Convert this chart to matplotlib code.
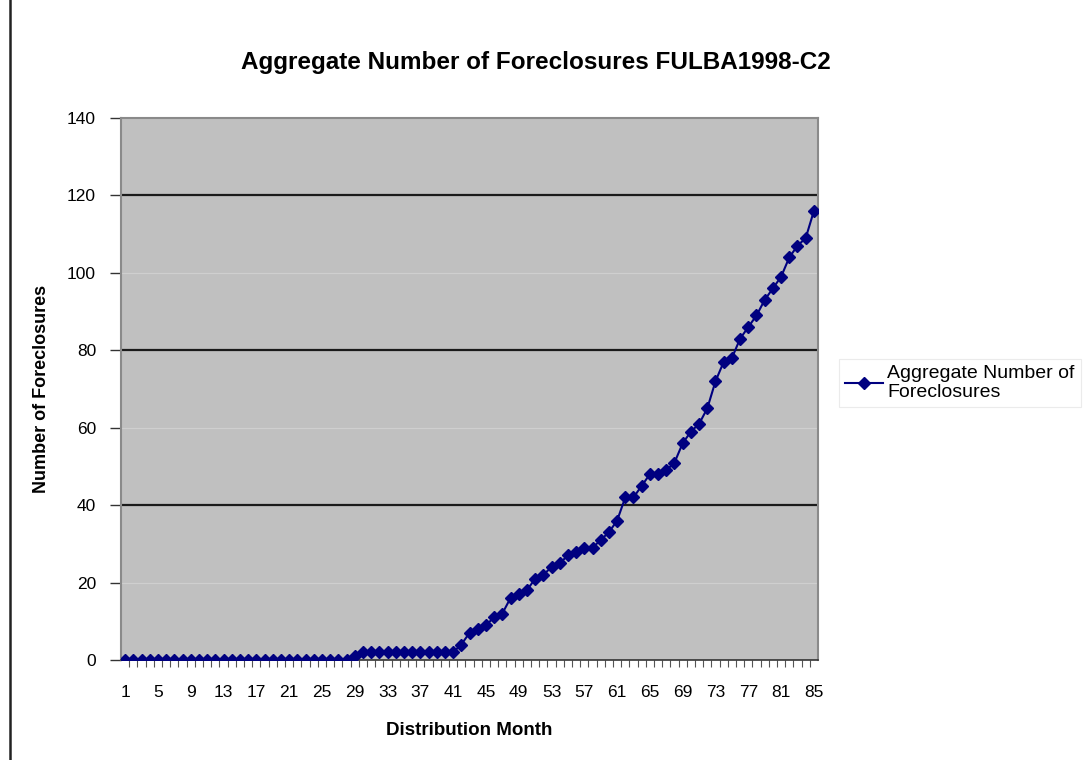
import matplotlib
matplotlib.use("Agg")
import matplotlib.pyplot as plt
from matplotlib.lines import Line2D

plt.rcParams['font.family'] = ['Liberation Sans', 'DejaVu Sans']

title = "Aggregate Number of Foreclosures FULBA1998-C2"
x_label = "Distribution Month"
y_label = "Number of Foreclosures"
series_name = "Aggregate Number of\nForeclosures"

months = list(range(1, 86))
foreclosures = ([0] * 28 + [1] + [2] * 12 +
                [4, 7, 8, 9, 11, 12, 16, 17, 18, 21, 22, 24, 25, 27, 28, 29, 29, 31, 33, 36,
                 42, 42, 45, 48, 48, 49, 51, 56, 59, 61, 65, 72, 77, 78, 83, 86, 89, 93, 96,
                 99, 104, 107, 109, 116])
x_tick_labels = [str(m) for m in months[::4]]
y_ticks = [0, 20, 40, 60, 80, 100, 120, 140]

fig = plt.figure(figsize=(10.89, 7.60), dpi=100)
fig.patch.set_facecolor('white')
ax = fig.add_axes([121 / 1089, 100 / 760, 697 / 1089, 542 / 760])
ax.set_facecolor('#c0c0c0')

# gridlines: dark at 40/80/120, faint at 20/60/100
for v in y_ticks[1:-1]:
    if v % 40 == 0:
        ax.axhline(v, color='#1a1a1a', lw=1.6, zorder=1)
    else:
        ax.axhline(v, color='#cfcfcf', lw=0.9, zorder=1)

ax.plot(months, foreclosures, color='#000080', lw=1.5, marker='D', ms=6,
        markeredgecolor='#000080', markerfacecolor='#000080', zorder=3,
        label=series_name)

ax.set_xlim(0.5, 85.5)
ax.set_ylim(0, 140)
ax.set_yticks(y_ticks)
ax.set_yticklabels([str(v) for v in y_ticks], fontsize=12.5)
ax.set_xticks(months[::4])
ax.set_xticklabels(x_tick_labels, fontsize=12.5)
ax.tick_params(axis='x', length=0, pad=18)
ax.tick_params(axis='y', length=8, width=1.0, color='#333333', pad=10)
ax.set_xticks([m + 0.5 for m in months[:-1]], minor=True)
ax.tick_params(axis='x', which='minor', length=5, color='#555555', width=0.8)

for side in ['left', 'right', 'top']:
    ax.spines[side].set_color('#8a8a8a')
    ax.spines[side].set_linewidth(1.5)
ax.spines['bottom'].set_color('#333333')
ax.spines['bottom'].set_linewidth(1.2)

ax.set_xlabel(x_label, fontsize=13.5, fontweight='bold', labelpad=16)
ax.set_ylabel(y_label, fontsize=13, fontweight='bold', labelpad=12)
fig.text(536 / 1089, 1 - 62 / 760, title, fontsize=17.5, fontweight='bold',
         ha='center', va='center')

leg = fig.legend(loc='center left', bbox_to_anchor=(829 / 1089, 1 - 383 / 760),
                 fontsize=14, frameon=True, fancybox=False, handlelength=2.0,
                 handletextpad=0.2, borderpad=0.3, labelspacing=0.2)
leg.get_frame().set_edgecolor('#e6e6e6')
leg.get_frame().set_linewidth(0.8)

fig.add_artist(Line2D([10 / 1089, 10 / 1089], [0, 1], color='#222222', lw=1.8,
                      transform=fig.transFigure))

fig.savefig('out.png', dpi=100)
